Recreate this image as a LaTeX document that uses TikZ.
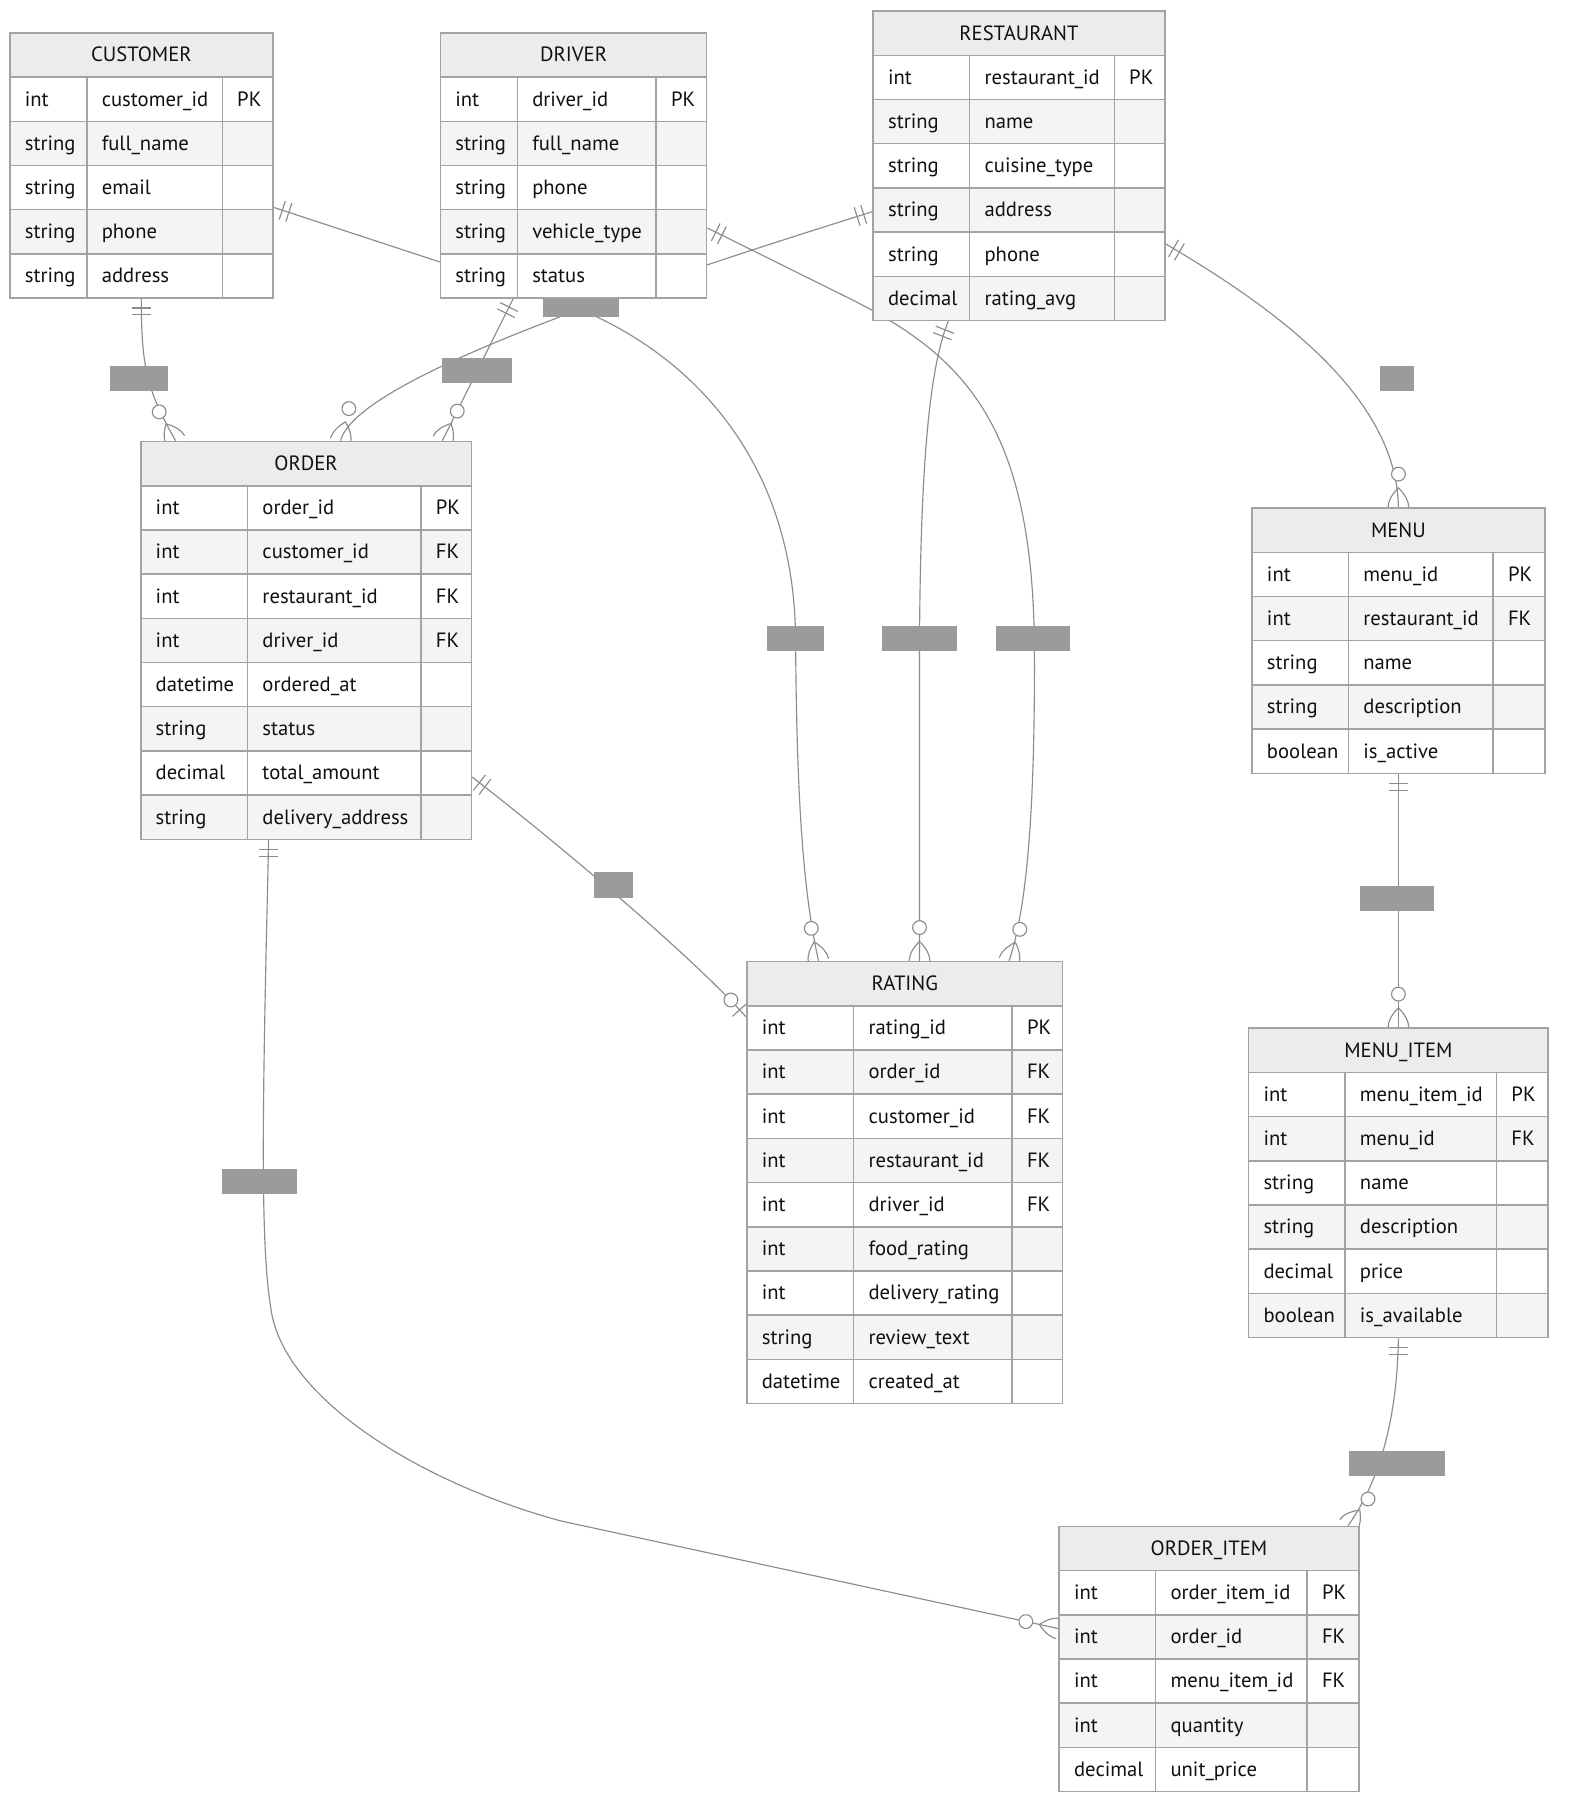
\documentclass[tikz,border=0pt]{standalone}
\usepackage{fontspec}
\setmainfont{PT Sans}
\usetikzlibrary{backgrounds}

\definecolor{entline}{HTML}{A3A3A3}
\definecolor{headfill}{HTML}{ECECEC}
\definecolor{rowgray}{HTML}{F4F4F4}
\definecolor{relline}{HTML}{8C8C8C}
\definecolor{lblgray}{HTML}{9B9B9B}
\definecolor{txt}{HTML}{111111}

\newcommand{\erfont}{\fontsize{18}{21}\selectfont}
\newcommand{\rowh}{38.5}

\tikzset{
  entbox/.style={draw=entline, line width=1.3pt, inner sep=0pt, anchor=north west},
  enthead/.style={entbox, fill=headfill, minimum height=\rowh pt, font=\erfont, text=txt, text height=15pt, text depth=3pt},
  entcell/.style={entbox, minimum height=\rowh pt, inner xsep=13pt, align=left, font=\erfont, text=txt, text height=15pt, text depth=3pt},
  rel/.style={draw=relline, line width=1pt},
  lbl/.style={fill=lblgray, inner sep=0pt, minimum height=22pt},
  pics/mkone/.style={code={\draw[rel] (8,-8.5) -- (8,8.5) (14,-8.5) -- (14,8.5);}},
  pics/mkzmany/.style={code={
    \draw[rel] (0,9) .. controls (5.7,9) and (11.3,5.7) .. (17,0) .. controls (11.3,-5.7) and (5.7,-9) .. (0,-9);
    \draw[rel, fill=white] (29,0) circle[radius=6];}},
  pics/mkzone/.style={code={
    \draw[rel] (8.5,-8.5) -- (8.5,8.5);
    \draw[rel, fill=white] (20,0) circle[radius=6];}},
}

% name, x, y, col widths, title, rows, row list
\newcommand{\ertable}[9]{%
  \pgfmathsetmacro{\ertw}{#4+#5+#6}%
  \pgfmathsetmacro{\erth}{(#8+1)*\rowh}%
  \pgfmathsetmacro{\erxb}{#2+#4}%
  \pgfmathsetmacro{\erxc}{#2+#4+#5}%
  \pgfmathsetmacro{\erwa}{#4-26}%
  \pgfmathsetmacro{\erwb}{#5-26}%
  \pgfmathsetmacro{\erwc}{#6-26}%
  \node[entbox, minimum width=\ertw pt, minimum height=\erth pt] (#1) at (#2,-#3) {};
  \node[enthead, minimum width=\ertw pt] (#1-head) at (#2,-#3) {#7};
  \foreach \cty/\cnm/\ckey [count=\i] in {#9} {
    \pgfmathsetmacro{\ery}{-#3-\i*\rowh}
    \ifodd\i\def\rowfill{white}\else\def\rowfill{rowgray}\fi
    \node[entcell, fill=\rowfill, text width=\erwa pt] (#1-\i-t) at (#2,\ery) {\cty};
    \node[entcell, fill=\rowfill, text width=\erwb pt] (#1-\i-n) at (\erxb,\ery) {\cnm};
    \node[entcell, fill=\rowfill, text width=\erwc pt] (#1-\i-k) at (\erxc,\ery) {\ckey};
  }
}

\begin{document}
\begin{tikzpicture}[x=1pt, y=1pt]
  \useasboundingbox (0,0) rectangle (1370,-1568);

  \ertable{customer}{8}{28}{67}{118}{44}{CUSTOMER}{5}{int/customer\_id/PK, string/full\_name/{}, string/email/{}, string/phone/{}, string/address/{}}
  \ertable{driver}{383}{28}{67}{121}{44}{DRIVER}{5}{int/driver\_id/PK, string/full\_name/{}, string/phone/{}, string/vehicle\_type/{}, string/status/{}}
  \ertable{restaurant}{760}{9}{84}{126}{44}{RESTAURANT}{6}{int/restaurant\_id/PK, string/name/{}, string/cuisine\_type/{}, string/address/{}, string/phone/{}, decimal/rating\_avg/{}}
  \ertable{order}{122}{384}{93}{151}{44}{ORDER}{8}{int/order\_id/PK, int/customer\_id/FK, int/restaurant\_id/FK, int/driver\_id/FK, datetime/ordered\_at/{}, string/status/{}, decimal/total\_amount/{}, string/delivery\_address/{}}
  \ertable{menu}{1090}{442}{84}{126}{45}{MENU}{5}{int/menu\_id/PK, int/restaurant\_id/FK, string/name/{}, string/description/{}, boolean/is\_active/{}}
  \ertable{rating}{650}{837}{93}{138}{44}{RATING}{9}{int/rating\_id/PK, int/order\_id/FK, int/customer\_id/FK, int/restaurant\_id/FK, int/driver\_id/FK, int/food\_rating/{}, int/delivery\_rating/{}, string/review\_text/{}, datetime/created\_at/{}}
  \ertable{menuitem}{1087}{895}{84}{132}{45}{MENU\_ITEM}{6}{int/menu\_item\_id/PK, int/menu\_id/FK, string/name/{}, string/description/{}, decimal/price/{}, boolean/is\_available/{}}
  \ertable{orderitem}{922}{1329}{84}{132}{45}{ORDER\_ITEM}{5}{int/order\_item\_id/PK, int/order\_id/FK, int/menu\_item\_id/FK, int/quantity/{}, decimal/unit\_price/{}}

  \begin{pgfonlayer}{background}
    \fill[white] (0,0) rectangle (1370,-1568);

    % customer - order
    \coordinate (cuor-s) at (customer.south);
    \coordinate (cuor-e) at ([xshift=31pt]order.north west);
    \draw[rel] (cuor-s) .. controls (123,-320) and (128,-340) .. (cuor-e);
    \pic[rotate=-90] at (cuor-s) {mkone};
    \pic[rotate=119.6] at (cuor-e) {mkzmany};

    % driver - order
    \coordinate (dror-s) at ([xshift=64pt]driver.south west);
    \coordinate (dror-e) at ([xshift=-26pt]order.north east);
    \draw[rel] (dror-s) -- (dror-e);
    \pic[rotate=-116.7] at (dror-s) {mkone};
    \pic[rotate=63.3] at (dror-e) {mkzmany};

    % restaurant - order
    \coordinate (reor-s) at ([yshift=-40pt]restaurant.west);
    \coordinate (reor-e) at ([xshift=30pt]order.north);
    \draw[rel] (reor-s) .. controls (560,-247) and (310,-330) .. (reor-e);
    \pic[rotate=197.5] at (reor-s) {mkone};
    \pic[rotate=75.5] at (reor-e) {mkzmany};

    % restaurant - menu
    \coordinate (reme-s) at ([yshift=-68pt]restaurant.east);
    \draw[rel] (reme-s) .. controls (1110,-268) and (1217,-345) .. (menu.north);
    \pic[rotate=-30.3] at (reme-s) {mkone};
    \pic[rotate=90] at (menu.north) {mkzmany};

    % menu - menu item
    \draw[rel] (menu.south) -- (menuitem.north);
    \pic[rotate=-90] at (menu.south) {mkone};
    \pic[rotate=90] at (menuitem.north) {mkzmany};

    % order - order item
    \coordinate (oroi-s) at ([xshift=112pt]order.south west);
    \coordinate (oroi-e) at ([yshift=26.5pt]orderitem.west);
    \draw[rel] (oroi-s) .. controls (229,-950) and (226,-1080) .. (236,-1140)
      .. controls (246,-1215) and (360,-1290) .. (489,-1325) -- (oroi-e);
    \pic[rotate=-90] at (oroi-s) {mkone};
    \pic[rotate=167.9] at (oroi-e) {mkzmany};

    % order - rating
    \coordinate (orra-s) at ([yshift=-119pt]order.east);
    \coordinate (orra-e) at ([yshift=-49pt]rating.north west);
    \draw[rel] (orra-s) .. controls (480,-730) and (600,-830) .. (orra-e);
    \pic[rotate=-37.6] at (orra-s) {mkone};
    \pic[rotate=131.8] at (orra-e) {mkzone};

    % customer - rating
    \coordinate (cura-s) at ([yshift=-36.5pt]customer.east);
    \coordinate (cura-e) at ([xshift=63pt]rating.north west);
    \draw[rel] (cura-s) -- (480,-260) .. controls (600,-300) and (692,-400) .. (693,-556)
      .. controls (694,-680) and (698,-770) .. (cura-e);
    \pic[rotate=-18.2] at (cura-s) {mkone};
    \pic[rotate=102.6] at (cura-e) {mkzmany};

    % restaurant - rating
    \coordinate (rera-s) at ([xshift=66pt]restaurant.south west);
    \coordinate (rera-e) at ([xshift=151pt]rating.north west);
    \draw[rel] (rera-s) .. controls (810,-320) and (802,-400) .. (801,-556) -- (rera-e);
    \pic[rotate=-111.3] at (rera-s) {mkone};
    \pic[rotate=90] at (rera-e) {mkzmany};

    % driver - rating
    \coordinate (drra-s) at ([yshift=-54.5pt]driver.east);
    \coordinate (drra-e) at ([xshift=229pt]rating.north west);
    \draw[rel] (drra-s) -- (740,-260) .. controls (840,-310) and (898,-370) .. (901,-556)
      .. controls (902,-700) and (895,-790) .. (drra-e);
    \pic[rotate=-26.6] at (drra-s) {mkone};
    \pic[rotate=71.2] at (drra-e) {mkzmany};

    % menu item - order item
    \coordinate (mioi-e) at ([xshift=-10pt]orderitem.north east);
    \draw[rel] (menuitem.south) .. controls (1217,-1240) and (1200,-1293) .. (mioi-e);
    \pic[rotate=-90] at (menuitem.south) {mkone};
    \pic[rotate=53.1] at (mioi-e) {mkzmany};

    % relationship labels
    \node[lbl, minimum width=50pt] (lb-cuor) at (121,-330) {};
    \node[lbl, minimum width=61pt] (lb-dror) at (415.5,-323) {};
    \node[lbl, minimum width=66pt] (lb-reor) at (506,-265) {};
    \node[lbl, minimum width=29pt] (lb-reme) at (1217,-330) {};
    \node[lbl, minimum width=34pt] (lb-orra) at (534,-771) {};
    \node[lbl, minimum width=50pt] (lb-cura) at (693,-556) {};
    \node[lbl, minimum width=65pt] (lb-rera) at (801,-556) {};
    \node[lbl, minimum width=65pt] (lb-drra) at (900,-556) {};
    \node[lbl, minimum width=65pt] (lb-memi) at (1217,-783) {};
    \node[lbl, minimum width=65pt] (lb-oroi) at (226,-1029) {};
    \node[lbl, minimum width=83pt] (lb-mioi) at (1217,-1275) {};
  \end{pgfonlayer}
\end{tikzpicture}
\end{document}
